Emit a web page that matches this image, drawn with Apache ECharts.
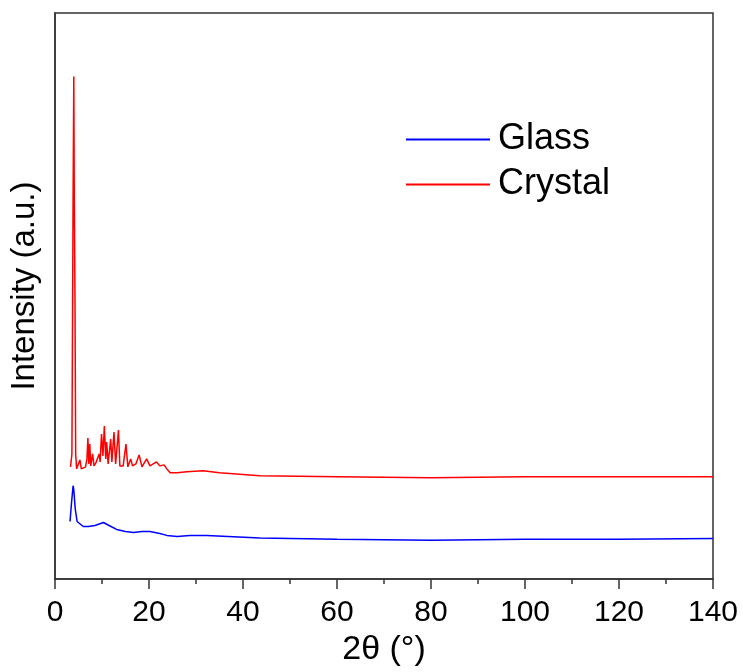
<!DOCTYPE html>
<html>
<head>
<meta charset="utf-8">
<script src="https://cdn.jsdelivr.net/npm/echarts@6/dist/echarts.min.js"></script>
<style>html,body{margin:0;padding:0;background:#fff}#c{width:743px;height:672px}</style>
</head>
<body>
<div id="c"></div>
<script>
// Tick labels
var xTicks = [0, 20, 40, 60, 80, 100, 120, 140];
// Series names
var seriesNames = ['Glass', 'Crystal'];
// Glass: [2θ, intensity (a.u.)]
var glassData = [
  [3.2, 58], [3.5, 76], [3.85, 94], [4.0, 90], [4.3, 71], [4.7, 58], [5.0, 56],
  [6.0, 53], [7.1, 53], [8.5, 54], [10.3, 57], [11.5, 54], [13.1, 50], [15.0, 48],
  [16.7, 47], [18.5, 48], [20.2, 48], [22.3, 46], [23.8, 44], [26.0, 43], [28.7, 44], [32.3, 44],
  [43.6, 41.5], [60, 40], [80, 39], [100, 40], [120, 40], [140, 41]
];
// Crystal: [2θ, intensity (a.u.)]
var crystalData = [
  [3.3, 113], [3.6, 126], [3.85, 386], [4.0, 506], [4.1, 386], [4.25, 283], [4.4, 126],
  [4.6, 111], [5.0, 113], [5.3, 120], [5.6, 111], [6.0, 112], [6.5, 113], [6.8, 121], [7.0, 142],
  [7.2, 116], [7.4, 136], [7.6, 114], [8.0, 126], [8.3, 114], [8.7, 117], [9.0, 121], [9.4, 126],
  [9.6, 118], [9.9, 146], [10.2, 124], [10.5, 154], [10.8, 121], [11.0, 138], [11.3, 116],
  [11.85, 141], [12.1, 118], [12.55, 148], [12.9, 116], [13.5, 150], [13.8, 114],
  [14.5, 114], [15.1, 136], [15.5, 113], [16.1, 121], [16.5, 114], [17.2, 116],
  [17.9, 125], [18.5, 113], [19.5, 121], [20.2, 114], [21.6, 118], [22.3, 114],
  [23.2, 115], [23.8, 111], [24.5, 107], [26, 107], [28, 108], [31.5, 109], [35, 107],
  [43.6, 104], [60, 103], [80, 102], [100, 103], [120, 103], [140, 103]
];

var FONT = '"Liberation Sans", Arial, sans-serif';
var chart = echarts.init(document.getElementById('c'), null, {renderer: 'canvas'});
chart.setOption({
  animation: false,
  backgroundColor: '#fff',
  grid: {left: 55, right: 30, top: 13, bottom: 89, show: true, borderColor: '#333', borderWidth: 1.5, backgroundColor: 'transparent'},
  legend: {
    data: seriesNames,
    orient: 'vertical',
    left: 401, top: 116,
    icon: 'rect',
    itemWidth: 84, itemHeight: 2, itemGap: 8,
    textStyle: {fontFamily: FONT, fontSize: 36, color: '#000', lineHeight: 37, padding: [0, 0, 0, 3]}
  },
  xAxis: {
    type: 'value', min: xTicks[0], max: xTicks[xTicks.length - 1], interval: 20,
    name: '2θ (°)', nameLocation: 'middle', nameGap: 43,
    nameTextStyle: {fontFamily: FONT, fontSize: 34, color: '#000'},
    axisLine: {show: true, lineStyle: {color: '#333', width: 1.5}},
    axisTick: {show: true, inside: false, length: 10, lineStyle: {color: '#333', width: 1.5}},
    minorTick: {show: true, splitNumber: 2, length: 5, lineStyle: {color: '#333', width: 1.5}},
    axisLabel: {fontFamily: FONT, fontSize: 30, color: '#000', margin: 19},
    splitLine: {show: false}
  },
  yAxis: {
    type: 'value', min: 0, max: 570,
    name: 'Intensity (a.u.)', nameLocation: 'middle', nameGap: 14, nameRotate: 90,
    nameTextStyle: {fontFamily: FONT, fontSize: 33, color: '#000', padding: [0, 0, 0, 20]},
    axisLine: {show: true, lineStyle: {color: '#333', width: 1.5}},
    axisTick: {show: false}, axisLabel: {show: false}, splitLine: {show: false}
  },
  series: [
    {name: seriesNames[0], type: 'line', data: glassData, symbol: 'none', lineStyle: {color: '#0000ff', width: 1.5}, itemStyle: {color: '#0000ff'}},
    {name: seriesNames[1], type: 'line', data: crystalData, symbol: 'none', lineStyle: {color: '#ff0000', width: 1.5}, itemStyle: {color: '#ff0000'}}
  ]
});
</script>
</body>
</html>
